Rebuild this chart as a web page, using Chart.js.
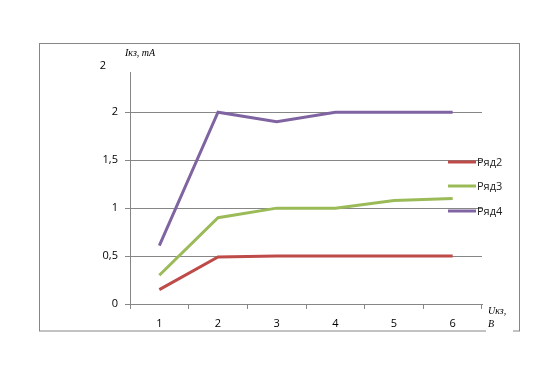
<!DOCTYPE html>
<html><head><meta charset="utf-8">
<script src="https://cdn.jsdelivr.net/npm/chart.js@4"></script>
<style>html,body{margin:0;padding:0;background:#fff}#w{width:549px;height:374px;position:relative}</style>
</head><body><div id="w"><canvas id="c"></canvas></div>
<script>
const categories = ['1','2','3','4','5','6'];
const seriesNames = ['Ряд2','Ряд3','Ряд4'];
const row2 = [0.15, 0.49, 0.5, 0.5, 0.5, 0.5];
const row3 = [0.3, 0.9, 1.0, 1.0, 1.08, 1.1];
const row4 = [0.61, 2.0, 1.9, 2.0, 2.0, 2.0];
const colors = ['#BE4B48', '#9BBB59', '#8064A2'];
const yTitle = 'Iкз, mA';
const xTitle1 = 'Uкз,';
const xTitle2 = 'B';
const gridColor = '#868686';

const deco = {
  id: 'deco',
  beforeDraw(chart) {
    const ctx = chart.ctx;
    ctx.save();
    ctx.fillStyle = '#fff';
    ctx.fillRect(0, 0, chart.width, chart.height);
    ctx.strokeStyle = gridColor;
    ctx.lineWidth = 1;
    ctx.strokeRect(39.5, 43.5, 480, 287.5);
    ctx.restore();
  },
  afterDraw(chart) {
    const ctx = chart.ctx;
    ctx.save();
    const ys = [162, 186, 211];
    ctx.lineWidth = 3;
    ctx.font = '11px "Open Sans", "DejaVu Sans", sans-serif';
    ctx.textBaseline = 'middle';
    ctx.textAlign = 'left';
    seriesNames.forEach((n, i) => {
      ctx.strokeStyle = colors[i];
      ctx.beginPath(); ctx.moveTo(448, ys[i]); ctx.lineTo(476, ys[i]); ctx.stroke();
      ctx.fillStyle = '#222';
      ctx.fillText(n, 477, ys[i] + 0.5);
    });
    ctx.font = 'italic 10px "Liberation Serif", serif';
    ctx.fillStyle = '#000';
    ctx.fillText(yTitle, 125, 53);
    ctx.fillStyle = '#fff';
    ctx.fillRect(486, 304, 27, 29);
    ctx.fillStyle = '#000';
    ctx.fillText(xTitle1, 488, 311);
    ctx.fillText(xTitle2, 488, 324);
    ctx.font = '11px "Open Sans", "DejaVu Sans", sans-serif';
    ctx.textAlign = 'center';
    ctx.fillText('2', 103, 66);
    ctx.restore();
  }
};

const mk = (label, data, i) => ({
  label, data, borderColor: colors[i], backgroundColor: colors[i],
  borderWidth: 3, pointRadius: 0, tension: 0, fill: false
});

new Chart(document.getElementById('c'), {
  type: 'line',
  data: {
    labels: categories,
    datasets: [mk(seriesNames[0], row2, 0), mk(seriesNames[1], row3, 1), mk(seriesNames[2], row4, 2)]
  },
  options: {
    responsive: true, maintainAspectRatio: false, animation: false,
    layout: { padding: { left: 0, top: 72, right: 67, bottom: 0 } },
    plugins: { legend: { display: false }, tooltip: { enabled: false } },
    scales: {
      x: {
        offset: true,
        grid: { offset: true, drawOnChartArea: false, color: gridColor, tickLength: 5, tickColor: gridColor },
        border: { color: gridColor },
        ticks: { color: '#000', padding: 8, font: { family: '"Open Sans", "DejaVu Sans", sans-serif', size: 11 }, maxRotation: 0 },
        afterFit(s) { s.height = 70; }
      },
      y: {
        min: 0, max: 2.42,
        afterBuildTicks(s) { s.ticks = s.ticks.filter(t => t.value <= 2.0001); },
        grid: { color: gridColor, tickLength: 5, tickColor: gridColor },
        border: { color: gridColor },
        ticks: { stepSize: 0.5, color: '#000', padding: 7,
          font: { family: '"Open Sans", "DejaVu Sans", sans-serif', size: 11 },
          callback: v => String(v).replace('.', ',') },
        afterFit(s) { s.width = 130; }
      }
    }
  },
  plugins: [deco]
});
</script></body></html>
